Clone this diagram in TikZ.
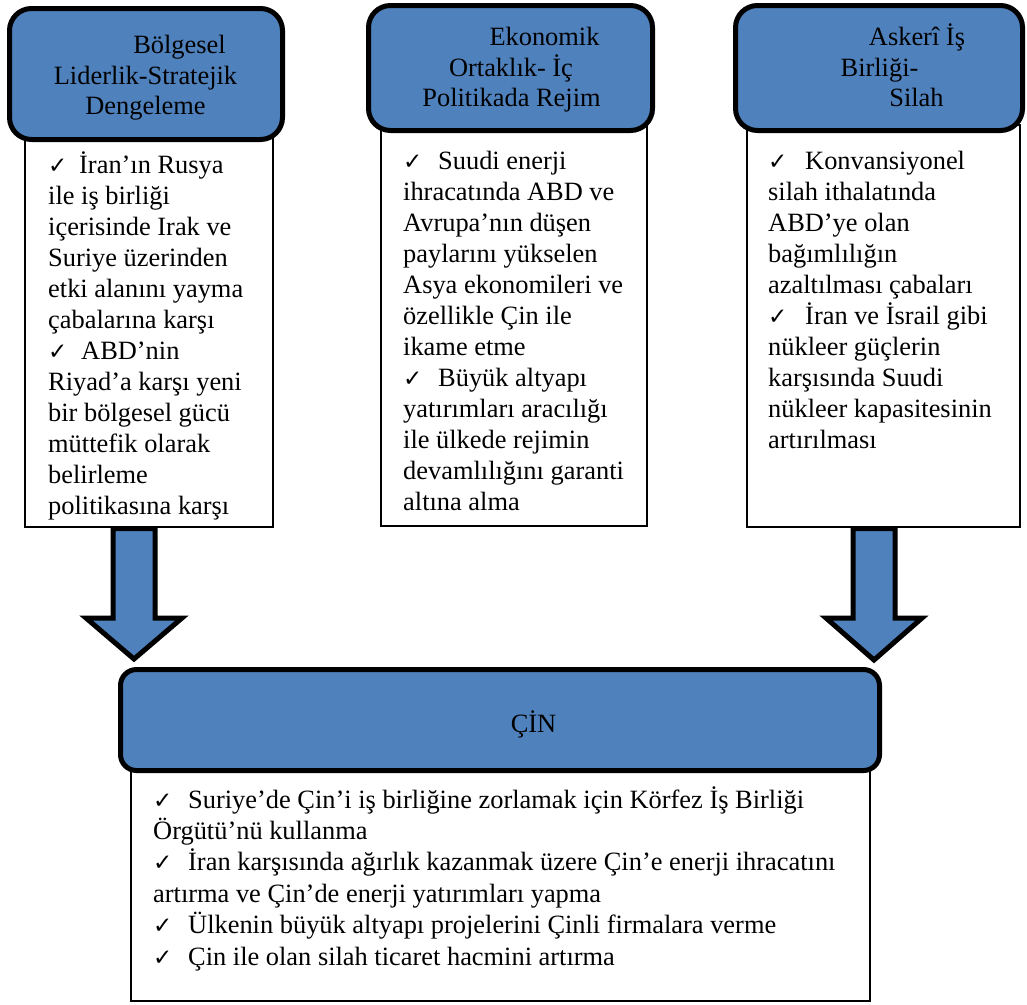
\documentclass[tikz,border=0pt]{standalone}
\usepackage{fontspec}
\setmainfont{Liberation Serif}
\newfontfamily\symfont{DejaVu Sans}
\usetikzlibrary{calc}
\definecolor{boxblue}{HTML}{4F81BD}

% tick mark followed by a fixed gap before the item text
\newcommand\ck[1]{\makebox[#1pt][l]{{\symfont\fontsize{23}{23}\selectfont ✓}}}

% one node per printed line: prefix, left x, first baseline, line step, lines
\newcommand\textlines[5]{%
  \foreach \t [count=\i] in {#5}{%
    \node[bodytext] (#1-\i) at ({#2},{#3+(\i-1)*#4}) {\t};}}

\tikzset{
  bluebox/.style={draw=black, line width=5pt, fill=boxblue, rectangle,
    rounded corners=22pt, inner sep=0pt},
  whitebox/.style={draw=black, line width=1.3pt, fill=white, rectangle, inner sep=0pt},
  headtext/.style={anchor=base, inner sep=0pt, font=\fontsize{26.4}{30.5}\selectfont},
  bodytext/.style={anchor=base west, inner sep=0pt, font=\fontsize{26.4}{31}\selectfont},
  blockarrow/.style={draw=black, line width=5pt, fill=boxblue, line join=miter},
}

\begin{document}
\begin{tikzpicture}[x=1pt, y=-1pt]
\useasboundingbox (0,0) rectangle (1027,1004);

% item lists under the three headings
\node[whitebox, minimum width=248pt, minimum height=392pt] (w1) at (149,331) {};
\node[whitebox, minimum width=266pt, minimum height=401pt] (w2) at (514,325.5) {};
\node[whitebox, minimum width=273pt, minimum height=402pt] (w3) at (883.5,326) {};

% headings
\node[bluebox, minimum width=273pt, minimum height=131pt] (h1) at (146,74) {};
\node[bluebox, minimum width=284pt, minimum height=125pt] (h2) at (510.5,68) {};
\node[bluebox, minimum width=287pt, minimum height=125pt] (h3) at (879,68) {};

\node[headtext] (h1a) at (179.5,53) {Bölgesel};
\node[headtext] (h1b) at (145.5,84) {Liderlik-Stratejik};
\node[headtext] (h1c) at (145.5,114) {Dengeleme};

\node[headtext] (h2a) at (544.5,45) {Ekonomik};
\node[headtext] (h2b) at (511,76) {Ortaklık- İç};
\node[headtext] (h2c) at (511.5,106) {Politikada Rejim};

\node[headtext] (h3a) at (917,45) {Askerî İş};
\node[headtext] (h3b) at (879.5,76) {Birliği-};
\node[headtext] (h3c) at (916.5,106) {Silah};

\textlines{t1}{48}{173}{31}{%
  {\ck{31}İran’ın Rusya},
  {ile iş birliği},
  {içerisinde Irak ve},
  {Suriye üzerinden},
  {etki alanını yayma},
  {çabalarına karşı},
  {\ck{33}ABD’nin},
  {Riyad’a karşı yeni},
  {bir bölgesel gücü},
  {müttefik olarak},
  {belirleme},
  {politikasına karşı}}

\textlines{t2}{403}{169}{31}{%
  {\ck{35}Suudi enerji},
  {ihracatında ABD ve},
  {Avrupa’nın düşen},
  {paylarını yükselen},
  {Asya ekonomileri ve},
  {özellikle Çin ile},
  {ikame etme},
  {\ck{35}Büyük altyapı},
  {yatırımları aracılığı},
  {ile ülkede rejimin},
  {devamlılığını garanti},
  {altına alma}}

\textlines{t3}{768}{169}{31}{%
  {\ck{37}Konvansiyonel},
  {silah ithalatında},
  {ABD’ye olan},
  {bağımlılığın},
  {azaltılması çabaları},
  {\ck{37}İran ve İsrail gibi},
  {nükleer güçlerin},
  {karşısında Suudi},
  {nükleer kapasitesinin},
  {artırılması}}

% list under the bottom heading
\node[whitebox, minimum width=739pt, minimum height=236pt] (wb) at (500.5,883) {};
\node[bluebox, rounded corners=16pt, minimum width=759pt, minimum height=101pt] (c) at (500,720) {};
\node[headtext] (clab) at (533.5,732) {ÇİN};

\textlines{tb}{153}{808}{31.4}{%
  {\ck{35}Suriye’de Çin’i iş birliğine zorlamak için Körfez İş Birliği},
  {Örgütü’nü kullanma},
  {\ck{35}İran karşısında ağırlık kazanmak üzere Çin’e enerji ihracatını},
  {artırma ve Çin’de enerji yatırımları yapma},
  {\ck{35}Ülkenin büyük altyapı projelerini Çinli firmalara verme},
  {\ck{35}Çin ile olan silah ticaret hacmini artırma}}

% block arrows from the outer lists down to the bottom heading
\coordinate (x1) at (134,0);
\coordinate (x3) at (874,0);
\coordinate (a1top) at (w1.south -| x1);
\coordinate (a1tip) at ($(c.north -| x1)+(0,-8)$);
\coordinate (a3top) at (w3.south -| x3);
\coordinate (a3tip) at ($(c.north -| x3)+(0,-7)$);

\draw[blockarrow] ($(a1top)+(-21,1)$) -- ($(a1top)+(21,1)$) -- ($(a1tip)+(21,-41)$)
  -- ($(a1tip)+(48,-41)$) -- (a1tip) -- ($(a1tip)+(-48,-41)$) -- ($(a1tip)+(-21,-41)$) -- cycle;
\draw[blockarrow] ($(a3top)+(-21,1)$) -- ($(a3top)+(21,1)$) -- ($(a3tip)+(21,-42)$)
  -- ($(a3tip)+(48,-42)$) -- (a3tip) -- ($(a3tip)+(-48,-42)$) -- ($(a3tip)+(-21,-42)$) -- cycle;
\end{tikzpicture}
\end{document}
